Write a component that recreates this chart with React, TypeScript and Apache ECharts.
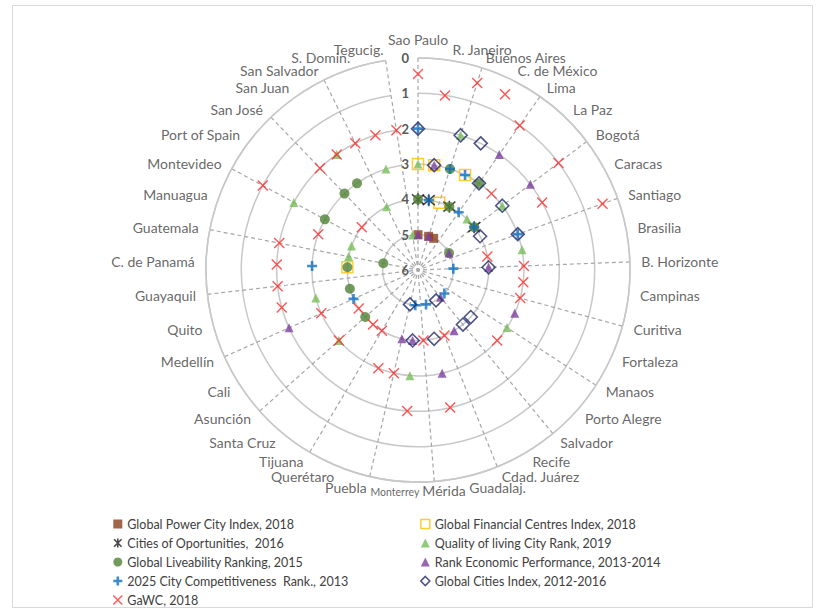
import React, { useEffect, useRef } from "react";
import * as echarts from "echarts";

const _ = null;

const cities = [
  "Sao Paulo", "R. Janeiro", "Buenos Aires", "C. de México", "Lima",
  "La Paz", "Bogotá", "Caracas", "Santiago", "Brasilia",
  "B. Horizonte", "Campinas", "Curitiva", "Fortaleza", "Manaos",
  "Porto Alegre", "Salvador", "Recife", "Cdad. Juárez", "Guadalaj.",
  "Mérida", "Monterrey", "Puebla", "Querétaro", "Tijuana",
  "Santa Cruz", "Asunción", "Cali", "Medellín", "Quito",
  "Guayaquil", "C. de Panamá", "Guatemala", "Manuagua", "Montevideo",
  "Port of Spain", "San José", "San Juan", "San Salvador", "S. Domin.",
  "Tegucig.",
];

const radiusTicks = [0, 1, 2, 3, 4, 5, 6];

// one value per city (same order as cities); null = not ranked
const globalPowerCity = [
  5, _, 5, 5, _, _, _, _, _, _, _, _, _, _, _, _, _, _, _, _, _,
  _, _, _, _, _, _, _, _, _, _, _, _, _, _, _, _, _, _, _, _,
];
const globalFinancial = [
  3, 3, 4, 3, _, _, _, _, _, _, _, _, _, _, _, _, _, _, _, _, _,
  _, _, _, _, _, _, _, _, _, _, 4, _, _, _, _, _, _, _, _, _,
];
const citiesOfOpportunities = [
  4, 4, _, 4, _, _, 4, _, _, _, _, _, _, _, _, _, _, _, _, _, _,
  _, _, _, _, _, _, _, _, _, _, _, _, _, _, _, _, _, _, _, _,
];
const qualityOfLiving = [
  3, _, 2, _, _, 4, 3, _, _, 3, _, _, _, _, 3, _, _, _, _, _, _,
  3, _, _, _, _, 3, _, _, 3, _, _, 4, 4, 2, _, _, 2, 4, 3, 5,
];
const liveability = [
  4, _, 3, 4, 3, _, 4, 5, _, _, _, _, _, _, _, _, _, _, _, _, _,
  _, _, _, _, _, 4, _, _, 4, _, 4, 5, _, 3, _, 3, 3, _, _, _,
];
const economicPerformance = [
  5, 3, 5, _, 2, _, 2, 5, _, _, 4, _, _, 3, _, _, 5, 4, _, 3, _,
  4, 4, _, _, _, _, _, 2, _, _, _, _, _, _, _, _, _, _, _, _,
];
const competitiveness2025 = [
  2, 4, 3, 3, 4, _, 4, _, 3, _, 5, _, _, _, _, 5, _, _, _, 5, _,
  5, _, _, _, _, _, _, 4, _, _, 3, _, _, _, _, _, _, _, _, _,
];
const globalCitiesIndex = [
  2, 3, 2, 2, 3, _, 3, 4, 3, _, 4, _, _, _, _, 4, 4, 5, _, 4, _,
  4, 5, _, _, _, _, _, _, _, _, _, _, _, _, _, _, _, _, _, _,
];
const gawc = [
  0.45, 1, 0.45, 0.45, 1, 3, 1, 2, 0.45, 4, 3, 3, 3, _, _, 3, _, _, 4, 2, 4,
  2, 3, 3, 4, 4, 3, 4, 3, 2, 2, 2, 2, 3, 1, 4, 2, 2, 2, 2, 2,
];

const seriesNames = [
  "Global Power City Index, 2018",
  "Global Financial Centres Index, 2018",
  "Cities of Oportunities,  2016",
  "Quality of living City Rank, 2019",
  "Global Liveability Ranking, 2015",
  "Rank Economic Performance, 2013-2014",
  "2025 City Competitiveness  Rank., 2013",
  "Global Cities Index, 2012-2016",
  "GaWC, 2018",
];

const X_PATH = "path://M0,0L10,10M10,0L0,10";
const PLUS_PATH = "path://M5,0L5,10M0,5L10,5";
const STAR_PATH = "path://M0,0L10,10M10,0L0,10M5,-1L5,11";

const FONT = "Lato";
// city names sit just outside the outer ring (value 0 on the inverted radius axis)
const LABEL_RADIUS_VALUE = -0.31;

export default function App() {
  const ref = useRef<HTMLDivElement>(null);

  useEffect(() => {
    if (!ref.current) return;
    const chart = echarts.init(ref.current, undefined, { renderer: "svg" });

    const toData = (arr: (number | null)[]) =>
      arr
        .map((v, i) => (v == null ? null : [v, i]))
        .filter((d) => d !== null);

    const styles: any[] = [
      { symbol: "rect", size: 9, itemStyle: { color: "#8A3E1C" } },
      { symbol: "rect", size: 11, itemStyle: { color: "transparent", borderColor: "#FFC000", borderWidth: 1.5 } },
      { symbol: STAR_PATH, size: 12, itemStyle: { color: "#1A1A1A", borderColor: "#1A1A1A", borderWidth: 1.6 } },
      { symbol: "triangle", size: 9, itemStyle: { color: "#78BE5A" } },
      { symbol: "circle", size: 10, itemStyle: { color: "#508236" } },
      { symbol: "triangle", size: 9, itemStyle: { color: "#7E3FA0" } },
      { symbol: PLUS_PATH, size: 10, itemStyle: { color: "#0E6EC0", borderColor: "#0E6EC0", borderWidth: 2.6 } },
      { symbol: "diamond", size: 13, itemStyle: { color: "transparent", borderColor: "#1F2867", borderWidth: 1.6 } },
      { symbol: X_PATH, size: 10, itemStyle: { color: "#FF2A2A", borderColor: "#FF2A2A", borderWidth: 1.4 } },
    ];
    const arrays = [
      globalPowerCity, globalFinancial, citiesOfOpportunities, qualityOfLiving,
      liveability, economicPerformance, competitiveness2025, globalCitiesIndex, gawc,
    ];

    const series: any[] = arrays.map((arr, k) => ({
      type: "scatter",
      name: seriesNames[k],
      coordinateSystem: "polar",
      symbol: styles[k].symbol,
      symbolSize: styles[k].size,
      itemStyle: styles[k].itemStyle,
      data: toData(arr),
      z: 3 + k,
    }));

    // city name labels, placed through the polar scales just outside the outer ring
    const n = cities.length;
    const cityLabelData = cities.map((name, i) => {
      const deg = (i * 360) / n;
      let position: any = deg < 180 ? "right" : "left";
      let fontSize = 14;
      let offset: number[] = [0, 0];
      if (i === 0) position = "top";
      else if (name === "Mérida") {
        position = "inside";
        offset = [9, -2];
      } else if (name === "Monterrey") {
        position = "inside";
        fontSize = 10.5;
        offset = [-6, 0];
      }
      return {
        value: [LABEL_RADIUS_VALUE, i],
        label: { position, fontSize, offset },
      };
    });
    series.push({
      type: "scatter",
      name: "cityLabels",
      coordinateSystem: "polar",
      silent: true,
      clip: false,
      symbol: "circle",
      symbolSize: 1,
      itemStyle: { color: "transparent" },
      z: 2,
      label: {
        show: true,
        distance: 0,
        fontFamily: FONT,
        color: "#404040",
        formatter: (p: any) => cities[p.dataIndex],
      },
      data: cityLabelData,
    });

    const legendItem = (k: number) => ({
      name: seriesNames[k],
      icon: styles[k].symbol,
      itemStyle: { ...styles[k].itemStyle, borderWidth: styles[k].itemStyle.borderWidth ?? 0 },
    });

    const legendCommon = {
      orient: "vertical",
      top: 517,
      padding: 0,
      itemGap: 5,
      itemWidth: 9,
      itemHeight: 9,
      textStyle: { fontSize: 12.5, fontFamily: FONT, color: "#404040", lineHeight: 14 },
      selectedMode: false,
    };

    chart.setOption({
      animation: false,
      backgroundColor: "#ffffff",
      graphic: [
        {
          type: "rect",
          shape: { x: 12.5, y: 5.5, width: 800, height: 602 },
          style: { fill: "none", stroke: "#D9D9D9", lineWidth: 1 },
          silent: true,
        },
      ],
      polar: { center: [418, 270], radius: 212 },
      angleAxis: {
        type: "category",
        data: cities,
        startAngle: 90,
        clockwise: true,
        boundaryGap: false,
        axisLine: { show: true, lineStyle: { color: "#C8C8C8", width: 1.5 } },
        axisTick: { show: false },
        axisLabel: { show: false },
        splitLine: { show: true, lineStyle: { color: "#A6A6A6", type: [4, 3], width: 1.2 } },
      },
      radiusAxis: {
        type: "value",
        min: radiusTicks[0],
        max: radiusTicks[radiusTicks.length - 1],
        interval: 1,
        inverse: true,
        axisLine: { show: false },
        axisTick: { show: false },
        axisLabel: { fontSize: 13, fontWeight: "bold", color: "#595959", fontFamily: FONT, margin: 9 },
        splitLine: { show: true, lineStyle: { color: "#C8C8C8", width: 1.5 } },
      },
      legend: [
        { ...legendCommon, left: 112, data: [0, 2, 4, 6, 8].map(legendItem) },
        { ...legendCommon, left: 420, data: [1, 3, 5, 7].map(legendItem) },
      ],
      series,
    });

    return () => chart.dispose();
  }, []);

  return (
    <div
      ref={ref}
      style={{ position: "fixed", left: 0, top: 0, width: 825, height: 610 }}
    />
  );
}
